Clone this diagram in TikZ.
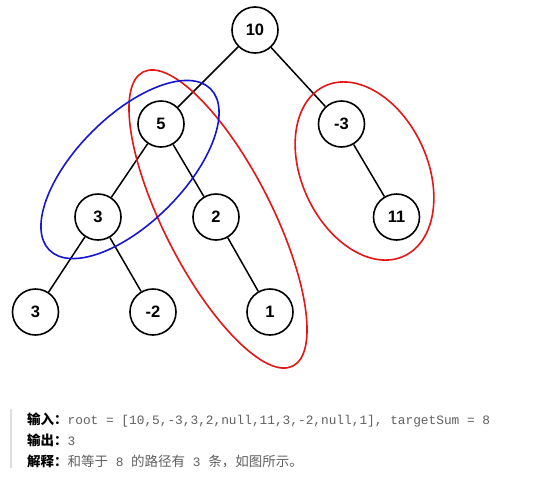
\documentclass[tikz,border=0pt]{standalone}
\usepackage{fontspec}
\setmainfont{Liberation Sans}
\setmonofont{Liberation Mono}
\newfontfamily\cjk{Noto Sans CJK SC}
\definecolor{ringred}{RGB}{228,22,22}
\definecolor{ringblue}{RGB}{22,22,210}
\definecolor{notegray}{RGB}{96,96,96}
\definecolor{bargray}{RGB}{222,222,222}
\tikzset{
  treenode/.style={circle, draw=black, line width=1.6pt, minimum size=46pt,
    inner sep=0pt, font=\fontsize{16.5}{18}\selectfont\bfseries},
  treeedge/.style={draw=black, line width=1.5pt},
  ring/.style={line width=1.6pt},
  notelabel/.style={anchor=base west, inner sep=0pt},
}
\newcommand{\monotext}[1]{{\ttfamily\fontsize{12.8}{15}\selectfont #1}}
\newcommand{\cjksize}{\fontsize{13.5}{15}\selectfont}
\begin{document}
\begin{tikzpicture}[x=1pt, y=-1pt]
\useasboundingbox (0,0) rectangle (544,480);

% tree nodes
\node[treenode] (n10) at (255,30) {10};
\node[treenode] (n5) at (161,124) {5};
\node[treenode] (nm3) at (341.5,124) {-3};
\node[treenode] (n3) at (98,217) {3};
\node[treenode] (n2) at (216,217) {2};
\node[treenode] (n11) at (396.5,217) {11};
\node[treenode] (n3b) at (35.5,312) {3};
\node[treenode] (nm2) at (153,312) {-2};
\node[treenode] (n1) at (270,312) {1};

% edges
\draw[treeedge] (n10) -- (n5);
\draw[treeedge] (n10) -- (nm3);
\draw[treeedge] (n5) -- (n3);
\draw[treeedge] (n5) -- (n2);
\draw[treeedge] (nm3) -- (n11);
\draw[treeedge] (n3) -- (n3b);
\draw[treeedge] (n3) -- (nm2);
\draw[treeedge] (n2) -- (n1);

% path rings
\coordinate (cmid) at (218,219);
\coordinate (cright) at (364.5,171);
\coordinate (cblue) at (130,169.5);
\draw[ring, ringred, rotate around={27:(cmid)}] (cmid) ellipse [x radius=54pt, y radius=165pt];
\draw[ring, ringred, rotate around={25:(cright)}] (cright) ellipse [x radius=62.8pt, y radius=93.8pt];
\draw[ring, ringblue, rotate around={45:(cblue)}] (cblue) ellipse [x radius=114pt, y radius=53.5pt];

% example note
\coordinate (bartop) at (11,409);
\coordinate (barbot) at (11,468);
\draw[bargray, line width=2pt] (bartop) -- (barbot);
\node[notelabel] (l1) at (27,424) {{\cjk\cjksize\bfseries 输入：}{\color{notegray}\monotext{root = [10,5,-3,3,2,null,11,3,-2,null,1], targetSum = 8}}};
\node[notelabel] (l2) at (27,445) {{\cjk\cjksize\bfseries 输出：}{\color{notegray}\monotext{3}}};
\node[notelabel] (l3) at (27,466) {{\cjk\cjksize\bfseries 解释：}{\color{notegray}\cjk\cjksize 和等于\monotext{\ 8\ }的路径有\monotext{\ 3\ }条，如图所示。}};
\end{tikzpicture}
\end{document}
